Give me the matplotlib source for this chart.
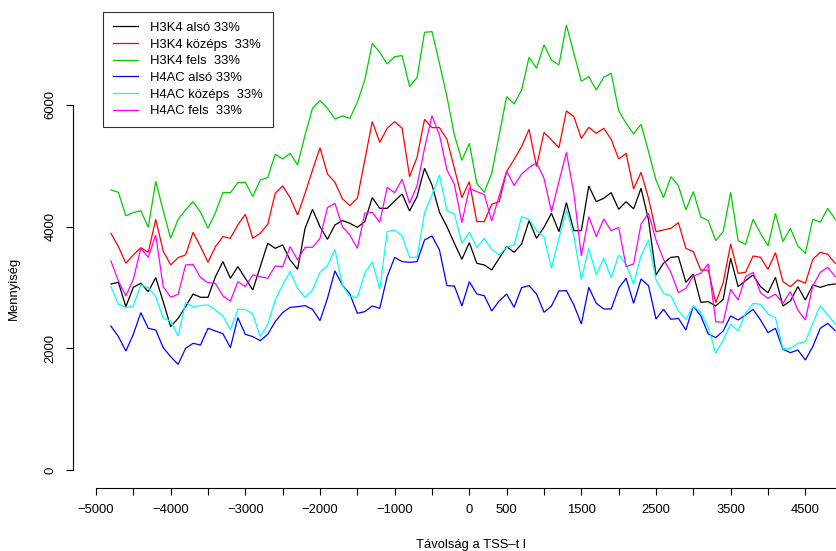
import matplotlib
matplotlib.use('Agg')
import matplotlib.pyplot as plt

plt.rcParams['font.family'] = ['Liberation Sans', 'DejaVu Sans']

# ---- data ----
positions = list(range(-4800, 5000, 100))

h3k4_also = [3058, 3085, 2685, 3003, 3069, 2932, 3162, 2767, 2356, 2493, 2685, 2893, 2839, 2839, 3178, 3425,
             3151, 3343, 3151, 2959, 3343, 3726, 3644, 3699, 3452, 3299, 3973, 4285, 4000, 3792, 4028, 4100,
             4055, 3989, 4083, 4477, 4302, 4302, 4422, 4537, 4258, 4494, 4959, 4685, 4236, 4000, 3726, 3463,
             3737, 3398, 3370, 3288, 3480, 3672, 3578, 3715, 4099, 3809, 3989, 4220, 3918, 4395, 3935, 3935,
             4669, 4411, 4466, 4559, 4285, 4411, 4291, 4631, 4110, 3206, 3398, 3496, 3507, 3085, 3222, 2756,
             2767, 2696, 2806, 3480, 3014, 3113, 3206, 3014, 2915, 3167, 2696, 2778, 3014, 2795, 3041, 3003, 3041, 3058]

h3k4_kozeps = [3891, 3672, 3398, 3535, 3655, 3578, 4121, 3600, 3370, 3491, 3535, 3907, 3672, 3414, 3672, 3836,
               3809, 4028, 4203, 3809, 3891, 4039, 4548, 4669, 4477, 4192, 4548, 4932, 5299, 4866, 4729, 4460,
               4346, 4466, 5096, 5727, 5387, 5617, 5727, 5617, 4822, 5140, 5765, 5628, 5628, 5436, 4959, 4477,
               4740, 4083, 4083, 4368, 4411, 4905, 5107, 5316, 5601, 4987, 5551, 5425, 5299, 5902, 5809, 5450,
               5633, 5535, 5617, 5436, 5113, 5206, 4620, 4894, 4466, 3918, 3946, 3973, 4066, 3644, 3589, 3285,
               3288, 2751, 3080, 3715, 3233, 3250, 3518, 3496, 3299, 3573, 3096, 3014, 3124, 3069, 3463, 3578, 3546, 3398]

h3k4_fels = [4603, 4565, 4181, 4231, 4263, 3989, 4746, 4263, 3809, 4121, 4274, 4411, 4236, 3973, 4231, 4562,
             4559, 4724, 4729, 4494, 4768, 4806, 5190, 5113, 5206, 5014, 5507, 5946, 6072, 5946, 5770, 5820,
             5781, 6044, 6412, 7014, 6866, 6675, 6795, 6812, 6302, 6450, 7195, 7206, 6686, 6138, 5507, 5090,
             5370, 4713, 4565, 4877, 5507, 6138, 6017, 6247, 6784, 6603, 6987, 6740, 6658, 7316, 6850, 6390,
             6466, 6247, 6455, 6521, 5907, 5699, 5524, 5683, 5233, 4768, 4477, 4822, 4674, 4274, 4576, 4160,
             4099, 3770, 3918, 4565, 3770, 3710, 4121, 3891, 3683, 4220, 3754, 3973, 3683, 3562, 4121, 4072, 4302, 4121]

h4ac_also = [2367, 2192, 1956, 2230, 2587, 2329, 2302, 2011, 1863, 1737, 2000, 2082, 2055, 2329, 2285, 2240,
             2011, 2504, 2230, 2192, 2126, 2230, 2439, 2587, 2674, 2685, 2702, 2641, 2455, 2822, 3272, 3040,
             2893, 2576, 2603, 2696, 2658, 3178, 3496, 3425, 3414, 3425, 3781, 3847, 3617, 3030, 3025, 2696,
             3096, 2893, 2866, 2614, 2778, 2893, 2674, 2998, 3030, 2893, 2592, 2696, 2943, 2948, 2713, 2400,
             3003, 2740, 2647, 2647, 2987, 3151, 2740, 3140, 3030, 2482, 2641, 2477, 2493, 2302, 2696, 2532,
             2236, 2176, 2285, 2532, 2466, 2548, 2641, 2466, 2258, 2329, 1984, 1929, 1973, 1808, 2028, 2329, 2411, 2291]

h4ac_kozeps = [3014, 2724, 2669, 2696, 3041, 2998, 2850, 2493, 2450, 2203, 2751, 2685, 2702, 2713, 2630, 2535,
               2302, 2641, 2641, 2565, 2192, 2395, 2795, 3041, 3261, 2987, 2839, 2959, 3250, 3359, 3628, 3040,
               2850, 2839, 3233, 3425, 2970, 3918, 3946, 3847, 3496, 3496, 4231, 4521, 4850, 4263, 4209, 3726,
               3907, 3655, 3809, 3628, 3535, 3661, 3699, 4165, 4121, 3935, 3836, 3315, 3809, 4274, 3847, 3130,
               3644, 3206, 3480, 3162, 3535, 3381, 3052, 3524, 3781, 3124, 2904, 2861, 2614, 2477, 2696, 2587,
               2345, 1918, 2137, 2400, 2285, 2576, 2740, 2724, 2565, 2504, 1989, 2000, 2082, 2110, 2411, 2702, 2548, 2400]

h4ac_fels = [3436, 3107, 2861, 3135, 3644, 3496, 3863, 3014, 2839, 2888, 3370, 3381, 3162, 3080, 3069, 2860,
             2778, 3096, 3014, 3206, 3178, 3151, 3354, 3343, 3672, 3452, 3661, 3661, 3809, 4313, 4384, 4000,
             3863, 3644, 4220, 4236, 4072, 4647, 4559, 4779, 4384, 4674, 5288, 5825, 5507, 4932, 4696, 4066,
             4631, 4576, 4532, 4094, 4505, 4916, 4674, 4866, 4970, 5053, 4795, 4247, 4740, 5222, 4548, 3518,
             4165, 3836, 4126, 3935, 3989, 3343, 3387, 4044, 4220, 3781, 3463, 3250, 2915, 2987, 3189, 3233,
             3387, 2439, 2428, 2970, 2795, 3178, 3250, 2915, 2822, 2893, 2740, 2932, 2630, 2466, 3025, 3250, 3332, 3178]

series_labels = ["H3K4 alsó 33%", "H3K4 középs  33%", "H3K4 fels  33%",
                 "H4AC alsó 33%", "H4AC középs  33%", "H4AC fels  33%"]
series_colors = ["#000000", "#FF0000", "#00CD00", "#0000FF", "#00FFFF", "#FF00FF"]

x_ticks = list(range(-5000, 5001, 500))
x_tick_labels_shown = [-5000, -4000, -3000, -2000, -1000, 0, 500, 1500, 2500, 3500, 4500]
y_ticks = [0, 2000, 4000, 6000]

x_label = "Távolság a TSS–t l"
y_label = "Mennyiség"

# ---- figure ----
W, H = 836, 551
FS = 9.4
fig = plt.figure(figsize=(W / 100, H / 100), dpi=100)
left_px, right_px, bottom_px, top_px = 73, 867, 488, 0
ax = fig.add_axes([left_px / W, 1 - bottom_px / H,
                   (right_px - left_px) / W, (bottom_px - top_px) / H])

all_series = [h3k4_also, h3k4_kozeps, h3k4_fels, h4ac_also, h4ac_kozeps, h4ac_fels]
for vals, lab, col in zip(all_series, series_labels, series_colors):
    ax.plot(positions, vals, color=col, lw=0.9, label=lab, solid_joinstyle='miter')

ax.set_xlim(-5308, 5326)
ax.set_ylim(-296, 7726)

for s in ['top', 'right']:
    ax.spines[s].set_visible(False)
ax.spines['left'].set_bounds(0, 6000)
ax.spines['bottom'].set_bounds(-5000, 5000)
for s in ['left', 'bottom']:
    ax.spines[s].set_linewidth(0.8)

def fmt(v):
    return str(v).replace('-', '\u2212')

ax.set_xticks(x_ticks)
ax.set_xticklabels([fmt(v) if v in x_tick_labels_shown else '' for v in x_ticks])
ax.set_yticks(y_ticks)
ax.set_yticklabels([str(v) for v in y_ticks], rotation=90, va='center')
ax.tick_params(axis='both', direction='out', length=5.2, width=0.8, labelsize=FS)
ax.tick_params(axis='x', pad=6.5)
ax.tick_params(axis='y', pad=6.5)

fig.text(14 / W, 1 - 288 / H, y_label, rotation=90, ha='center', va='center', fontsize=FS)
fig.text(471 / W, 1 - 545 / H, x_label, ha='center', va='center', fontsize=FS)

leg = ax.legend(loc='upper left', bbox_to_anchor=(103 / W, 1 - 12 / H),
                bbox_transform=fig.transFigure, borderaxespad=0, fontsize=FS,
                frameon=True, fancybox=False, shadow=False, edgecolor='black',
                handlelength=1.9, handletextpad=0.95, labelspacing=0.35, borderpad=0.75)
leg.get_frame().set_linewidth(0.8)

fig.savefig('out.png', dpi=100)
